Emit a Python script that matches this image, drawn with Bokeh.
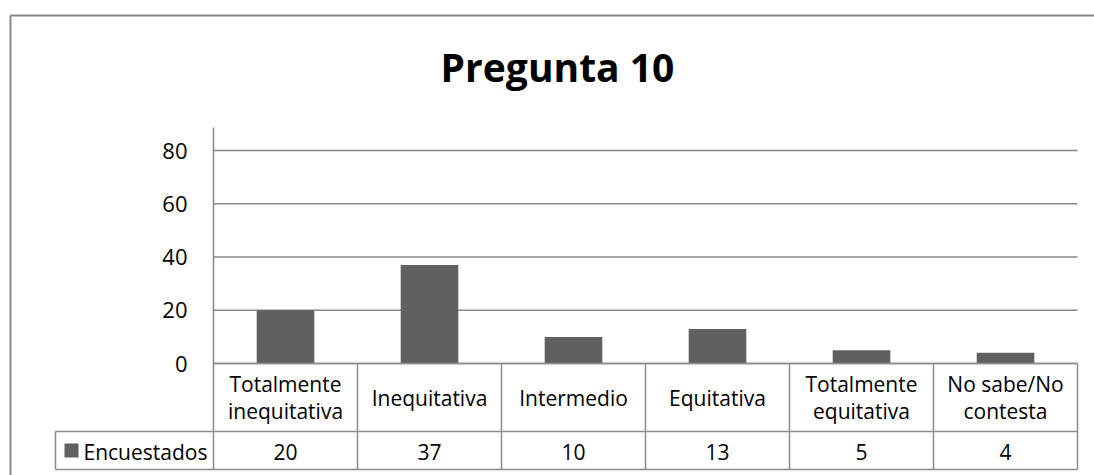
from bokeh.plotting import figure
from bokeh.models import Range1d, ColumnDataSource
from bokeh.embed import file_html
from bokeh.resources import INLINE
from bokeh.core.properties import value

# ---- data ----
title_text = "Pregunta 10"
categories = ["Totalmente\ninequitativa", "Inequitativa", "Intermedio",
              "Equitativa", "Totalmente\nequitativa", "No sabe/No\ncontesta"]
series_name = "Encuestados"
counts = [20, 37, 10, 13, 5, 4]
y_ticks = [0, 20, 40, 60, 80]

GRID = "#878787"
TL = "#8c8c8c"
BAR = "#606060"
FONT = "Open Sans"

# ---- layout constants (pixels on the page) ----
W, H = 1094, 475
PLOT_L, PLOT_R = 213, 1077          # plot-area left / right
PLOT_TOP, ZERO_Y = 127, 363         # axis-line top / baseline
PX_PER_UNIT = (363 - 150) / 80.0    # vertical scale (value -> px)
n = len(categories)
COL = (PLOT_R - PLOT_L) / n         # width of one category column


def xd(px):
    """page x -> x data (category units)"""
    return (px - PLOT_L) / COL


p = figure(width=W, height=H,
           x_range=Range1d(xd(0), xd(W)),
           y_range=Range1d(-(H - ZERO_Y) / PX_PER_UNIT, ZERO_Y / PX_PER_UNIT),
           output_backend="svg", toolbar_location=None,
           x_axis_location=None, y_axis_location=None)
p.extra_y_ranges = {"px": Range1d(H, 0)}   # page-pixel rows for the table
p.min_border_left = p.min_border_right = p.min_border_top = p.min_border_bottom = 0
p.outline_line_color = None
p.xgrid.grid_line_color = None
p.ygrid.grid_line_color = None
p.background_fill_color = "white"
p.border_fill_color = "white"

# outer chart border (top and left edges visible)
p.segment(x0=[xd(10), xd(10)], x1=[xd(10), xd(W + 20)], y0=[15, 15], y1=[H + 20, 15],
          y_range_name="px", line_color=GRID, line_width=2)

# title
p.text(x=[xd(557)], y=[66], text=[title_text], y_range_name="px",
       text_font=value(FONT), text_font_style="bold", text_font_size="39px",
       text_align="center", text_baseline="middle", text_color="black")

# gridlines and value axis
p.segment(x0=[0] * len(y_ticks), x1=[n] * len(y_ticks), y0=y_ticks, y1=y_ticks,
          line_color=GRID, line_width=1.3)
p.segment(x0=[0], x1=[0], y0=[PLOT_TOP], y1=[ZERO_Y], y_range_name="px",
          line_color=GRID, line_width=1.5)
p.text(x=[xd(187)] * len(y_ticks), y=y_ticks, text=[str(t) for t in y_ticks],
       text_font=value(FONT), text_font_size="22px", text_align="right",
       text_baseline="middle", text_color="black")

# bars
centers = [i + 0.5 for i in range(n)]
src = ColumnDataSource(dict(x=centers, cat=categories, top=counts,
                            val=[str(v) for v in counts]))
p.vbar(x="x", top="top", width=0.4, source=src, fill_color=BAR, line_color=None)

# data table
row_top, row_mid, row_bot = ZERO_Y, 431, 469
leg_left = xd(55)
p.segment(x0=[0, leg_left, leg_left], x1=[n, n, n], y0=[row_top, row_mid, row_bot],
          y1=[row_top, row_mid, row_bot], y_range_name="px", line_color=TL, line_width=1.5)
p.segment(x0=list(range(n + 1)) + [leg_left], x1=list(range(n + 1)) + [leg_left],
          y0=[row_top] * (n + 1) + [row_mid], y1=[row_bot] * (n + 1) + [row_bot],
          y_range_name="px", line_color=TL, line_width=1.5)

p.text(x="x", y=(row_top + row_mid) / 2, text="cat", source=src, y_range_name="px",
       text_font=value(FONT), text_font_size="21px", text_align="center",
       text_baseline="middle", text_line_height=0.97, text_color="black")
p.text(x="x", y=(row_mid + row_bot) / 2 + 1, text="val", source=src, y_range_name="px",
       text_font=value(FONT), text_font_size="21px", text_align="center",
       text_baseline="middle", text_color="black")

# legend key in the table
p.quad(left=[xd(64)], right=[xd(78)], top=[443], bottom=[457], y_range_name="px",
       fill_color=BAR, line_color=None)
p.text(x=[xd(83)], y=[(row_mid + row_bot) / 2 + 1], text=[series_name], y_range_name="px",
       text_font=value(FONT), text_font_size="21px", text_align="left",
       text_baseline="middle", text_color="black")

open("out.html", "w").write(file_html(p, INLINE))
